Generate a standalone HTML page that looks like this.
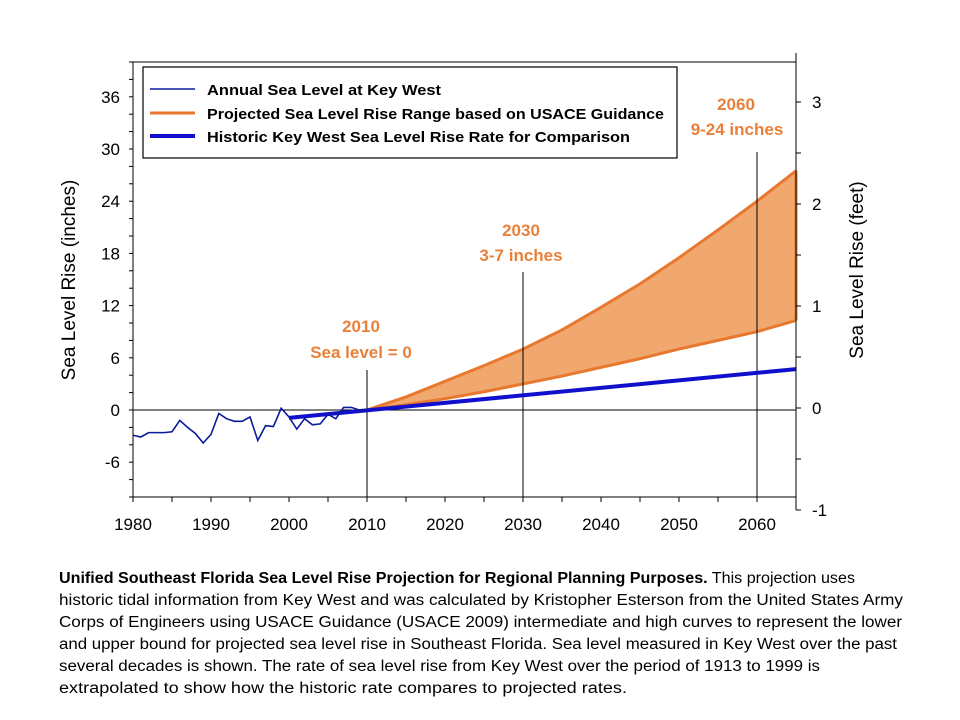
<!DOCTYPE html>
<html><head><meta charset="utf-8"><style>
html,body{margin:0;padding:0;background:#fff;}
svg{display:block;font-family:"Liberation Sans",sans-serif;}
</style></head><body>
<svg id="chart" width="960" height="720" viewBox="0 0 960 720">
<g id="plot"></g>
<g id="caption">
<text x="59" y="583" font-size="15.5" textLength="796" lengthAdjust="spacingAndGlyphs" fill="#000"><tspan font-weight="bold">Unified Southeast Florida Sea Level Rise Projection for Regional Planning Purposes.</tspan> This projection uses</text>
<text x="59" y="605" font-size="15.5" textLength="844" lengthAdjust="spacingAndGlyphs" fill="#000">historic tidal information from Key West and was calculated by Kristopher Esterson from the United States Army</text>
<text x="59" y="627" font-size="15.5" textLength="843" lengthAdjust="spacingAndGlyphs" fill="#000">Corps of Engineers using USACE Guidance (USACE 2009) intermediate and high curves to represent the lower</text>
<text x="59" y="649" font-size="15.5" textLength="838" lengthAdjust="spacingAndGlyphs" fill="#000">and upper bound for projected sea level rise in Southeast Florida. Sea level measured in Key West over the past</text>
<text x="59" y="671" font-size="15.5" textLength="761" lengthAdjust="spacingAndGlyphs" fill="#000">several decades is shown. The rate of sea level rise from Key West over the period of 1913 to 1999 is</text>
<text x="59" y="693" font-size="15.5" textLength="568" lengthAdjust="spacingAndGlyphs" fill="#000">extrapolated to show how the historic rate compares to projected rates.</text>
</g>
</svg>
<script>
const annualYears = [1980,1981,1982,1983,1984,1985,1986,1987,1988,1989,1990,1991,1992,1993,1994,1995,1996,1997,1998,1999,2000,2001,2002,2003,2004,2005,2006,2007,2008,2009,2010];
const annualValues = [-2.9,-3.1,-2.6,-2.6,-2.6,-2.5,-1.2,-2.0,-2.7,-3.8,-2.8,-0.4,-1.0,-1.3,-1.3,-0.8,-3.5,-1.8,-1.9,0.2,-0.8,-2.2,-1.0,-1.7,-1.6,-0.5,-1.0,0.3,0.3,0.0,0.0];
const projYears = [2010,2015,2020,2025,2030,2035,2040,2045,2050,2055,2060,2065];
const projLow = [0,0.6,1.3,2.1,3.0,3.9,4.9,5.9,7.0,8.0,9.0,10.3];
const projHigh = [0,1.5,3.3,5.1,7.0,9.2,11.8,14.5,17.5,20.7,24.0,27.5];
const histYears = [2000,2065];
const histValues = [-0.9,4.7];
const xTickLabels = [1980,1990,2000,2010,2020,2030,2040,2050,2060];
const yTickLabels = [-6,0,6,12,18,24,30,36];
const y2TickLabels = [-1,0,1,2,3];
const markerYears = [2010,2030,2060];

const NS="http://www.w3.org/2000/svg";
const L=133,R=796,T=62,B=497;
const xMin=1980,xMax=2065,yMin=-10,yMax=40;
const X=v=>L+(v-xMin)/(xMax-xMin)*(R-L);
const Y=v=>B-(v-yMin)/(yMax-yMin)*(B-T);
const Y2=f=>408-102*f;
const plot=document.getElementById('plot');
function mk(tag,attrs,parent){const e=document.createElementNS(NS,tag);for(const k in attrs)e.setAttribute(k,attrs[k]);(parent||plot).appendChild(e);return e;}

let d='M'+projYears.map((y,i)=>X(y)+','+Y(projHigh[i])).join(' L');
for(let i=projYears.length-1;i>=0;i--)d+=' L'+X(projYears[i])+','+Y(projLow[i]);
d+='Z';
const band=mk('path',{d:d,fill:'#F0A86E',stroke:'none'});


const hi=mk('polyline',{points:projYears.map((y,i)=>X(y)+','+Y(projHigh[i])).join(' '),fill:'none',stroke:'#E8782E','stroke-width':3});


const lo=mk('polyline',{points:projYears.map((y,i)=>X(y)+','+Y(projLow[i])).join(' '),fill:'none',stroke:'#E8782E','stroke-width':3});


mk('line',{x1:X(2065),x2:X(2065),y1:Y(projLow[11]),y2:Y(projHigh[11]),stroke:'#E8782E','stroke-width':3});

const z=mk('line',{x1:L,x2:R,y1:Y(0),y2:Y(0),stroke:'#000','stroke-width':1});



const mTop={2010:370,2030:272,2060:152};
markerYears.forEach(yr=>{
  const m=mk('line',{x1:X(yr),x2:X(yr),y1:mTop[yr],y2:B,stroke:'#000','stroke-width':1});
  
  
});

const h=mk('polyline',{points:histYears.map((y,i)=>X(y)+','+Y(histValues[i])).join(' '),fill:'none',stroke:'#1010CC','stroke-width':4});



const a=mk('polyline',{points:annualYears.map((y,i)=>X(y)+','+Y(annualValues[i])).join(' '),fill:'none',stroke:'#0A1A9A','stroke-width':1.6});



mk('line',{x1:L,x2:R,y1:T,y2:T,stroke:'#000'});
mk('line',{x1:L,x2:L,y1:T,y2:B,stroke:'#000'});
mk('line',{x1:R,x2:R,y1:53,y2:Y2(-1),stroke:'#000'});
mk('line',{x1:L,x2:R,y1:B,y2:B,stroke:'#000'});
for(let v=yMin;v<=yMax;v+=2){mk('line',{x1:L-4,x2:L,y1:Y(v),y2:Y(v),stroke:'#000'});}
for(let f=-1;f<=3.4;f+=0.5){mk('line',{x1:R,x2:R+5,y1:Y2(f),y2:Y2(f),stroke:'#000'});}
for(let v=xMin;v<=xMax;v+=5){mk('line',{x1:X(v),x2:X(v),y1:B,y2:B+5,stroke:'#000'});}
xTickLabels.forEach(v=>{const t=mk('text',{x:X(v),y:530,'font-size':17,'text-anchor':'middle',fill:'#000'});t.textContent=v;

});
yTickLabels.forEach(v=>{const t=mk('text',{x:120,y:Y(v)+6,'font-size':17,'text-anchor':'end',fill:'#000'});t.textContent=v;

});
y2TickLabels.forEach(v=>{const t=mk('text',{x:812,y:Y2(v)+6,'font-size':17,'text-anchor':'start',fill:'#000'});t.textContent=v;

});
let t1=mk('text',{transform:'translate(75,280) rotate(-90)','font-size':19,'text-anchor':'middle',fill:'#000'});t1.textContent='Sea Level Rise (inches)';


let t2=mk('text',{transform:'translate(863,270) rotate(-90)','font-size':19,'text-anchor':'middle',fill:'#000'});t2.textContent='Sea Level Rise (feet)';



const ann=[[361,332,'2010'],[361,358,'Sea level = 0'],[521,236,'2030'],[521,261,'3-7 inches'],[736,110,'2060'],[737,135,'9-24 inches']];
ann.forEach(([x,y,s])=>{const t=mk('text',{x:x,y:y,'font-size':17,'font-weight':'bold','text-anchor':'middle',fill:'#E8803A'});t.textContent=s;

});

const lg=mk('g',{});


mk('rect',{x:143,y:67,width:534,height:91,fill:'#fff',stroke:'#000','stroke-width':1.2},lg);
const le=[['Annual Sea Level at Key West','#0A1A9A',1.6,95,234],['Projected Sea Level Rise Range based on USACE Guidance','#E8782E',3,119,457],['Historic Key West Sea Level Rise Rate for Comparison','#1010CC',4,142,423]];
le.forEach(([s,c,w,y,len])=>{const g=mk('g',{},lg);


mk('line',{x1:150,x2:195,y1:y-6,y2:y-6,stroke:c,'stroke-width':w},g);
const t=mk('text',{x:207,y:y,'font-size':15,'font-weight':'bold',fill:'#000',textLength:len,lengthAdjust:'spacingAndGlyphs'},g);t.textContent=s;});
</script>
</body></html>
